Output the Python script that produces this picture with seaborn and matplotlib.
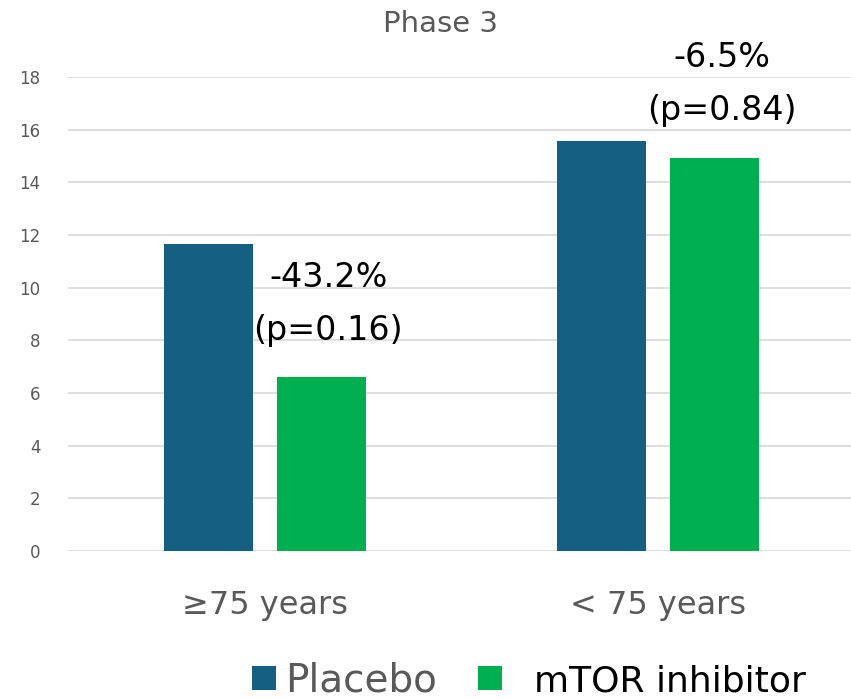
import matplotlib
matplotlib.use("Agg")
import matplotlib.pyplot as plt
import seaborn as sns
import pandas as pd

# Data
categories = ["≥75 years", "< 75 years"]
groups = ["Placebo", "mTOR inhibitor"]
placebo = [11.66, 15.57]
mtor = [6.60, 14.93]
change_labels = ["-43.2%", "-6.5%"]
p_labels = ["(p=0.16)", "(p=0.84)"]
y_ticks = [0, 2, 4, 6, 8, 10, 12, 14, 16, 18]

colors = {"Placebo": "#156082", "mTOR inhibitor": "#00b050"}
gray = "#595959"

df = pd.DataFrame({
    "category": categories * 2,
    "group": [groups[0]] * len(categories) + [groups[1]] * len(categories),
    "value": placebo + mtor,
})

sns.set_style("white")
plt.rcParams["font.family"] = ["DejaVu Sans"]

fig = plt.figure(figsize=(8.51, 6.99), dpi=100)
ax = fig.add_axes([0.080, 0.2117, 0.92, 0.6781])

sns.barplot(data=df, x="category", y="value", hue="group", order=categories,
            hue_order=groups, palette=colors, width=0.575, gap=0.21,
            saturation=1, errorbar=None, linewidth=0, ax=ax)

ax.set_ylim(0, 18)
ax.set_xlim(-0.5, 1.49)
ax.set_yticks(y_ticks)
ax.set_xlabel("")
ax.set_ylabel("")
for s in ax.spines.values():
    s.set_visible(False)
ax.yaxis.grid(True, color="#d9d9d9", linewidth=1.2)
ax.set_axisbelow(True)
ax.tick_params(axis="y", length=0, pad=20, labelsize=12, labelcolor=gray)
ax.tick_params(axis="x", length=0, pad=28, labelsize=23, labelcolor=gray)

# Percent change and p-value over the treatment bars
for bar, chg, pv in zip(ax.containers[1], change_labels, p_labels):
    x = bar.get_x() + bar.get_width() / 2
    y = bar.get_height()
    ax.annotate(chg, (x, y), xytext=(5, 72), textcoords="offset points",
                ha="center", va="center", fontsize=24, color="black")
    ax.annotate(pv, (x, y), xytext=(5, 34), textcoords="offset points",
                ha="center", va="center", fontsize=24, color="black")

fig.text(0.5175, 0.965, "Phase 3", ha="center", va="center", fontsize=21, color=gray)

handles, _ = ax.get_legend_handles_labels()
ax.get_legend().remove()
leg = fig.legend(handles, ["Placebo", "  mTOR inhibitor"], loc="center",
                 bbox_to_anchor=(0.622, 0.026), ncol=2, frameon=False,
                 fontsize=28, handlelength=0.6, handleheight=0.6,
                 handletextpad=0.25, columnspacing=1.05,
                 borderaxespad=0, borderpad=0)
leg.get_texts()[0].set_color(gray)
leg.get_texts()[1].set_color("black")
leg.get_texts()[1].set_fontsize(26)

fig.savefig("out.png", dpi=100)
